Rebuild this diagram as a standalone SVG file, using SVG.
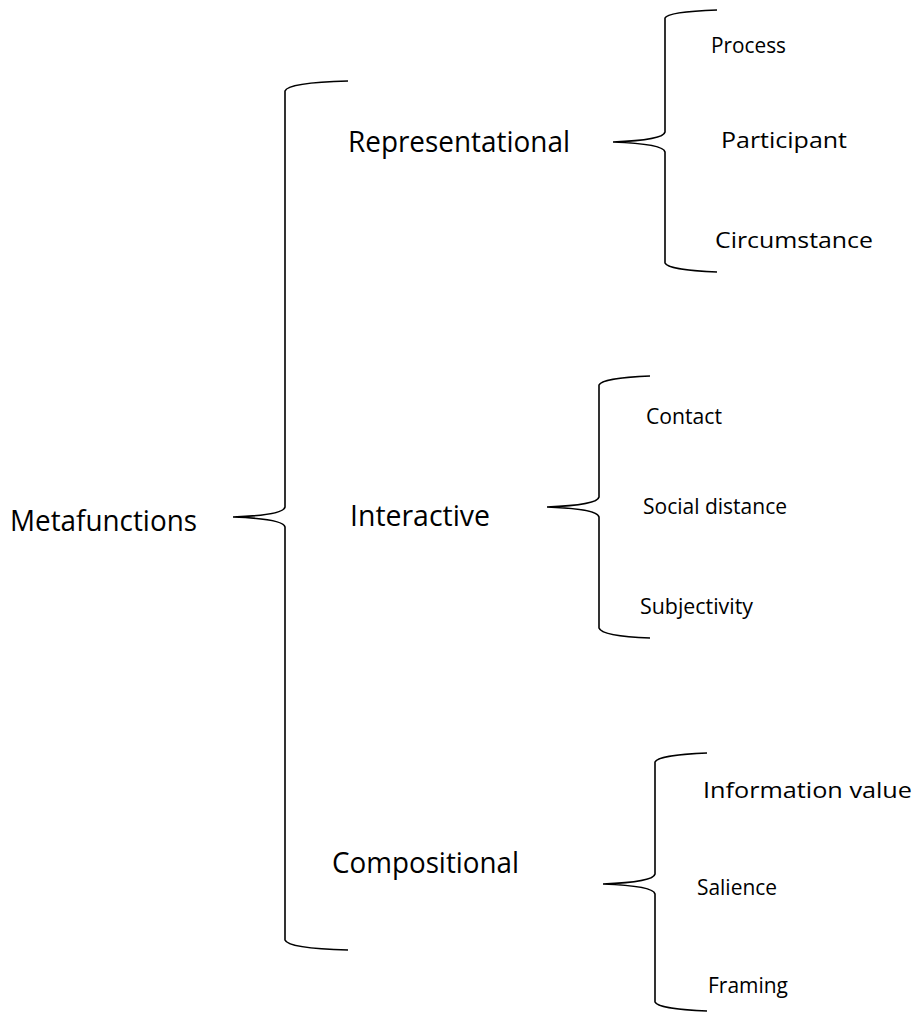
<svg xmlns="http://www.w3.org/2000/svg" width="917" height="1015" viewBox="0 0 917 1015">
<style>
.br{fill:none;stroke:#000;stroke-width:1.6}
.big{font-family:"Open Sans","Liberation Sans",sans-serif;font-size:29px;fill:#000}
.sm{font-family:"Open Sans","Liberation Sans",sans-serif;font-size:21px;fill:#000}
</style>
<rect width="917" height="1015" fill="#fff"/>
<g id="connectors">
<path class="br" d="M348,81 C310,82 287,85 285,91 L285,507 C284,513 260,516 233,517 C260,518 284,521 285,527 L285,940 C287,946 310,949 348,950"/>
<path class="br" d="M717,10 C690,11 667,13 665,18 L665,132 C664,138 640,141 613,142 C640,143 664,146 665,152 L665,263 C667,268 690,271 717,272"/>
<path class="br" d="M650,376 C623,377 601,380 599,385 L599,497 C598,503 574,506 547,507 C574,508 598,511 599,517 L599,628 C601,634 623,637 650,638"/>
<path class="br" d="M707,753 C680,754 657,757 655,762 L655,874 C654,880 630,883 603,884 C630,885 654,888 655,894 L655,1002 C657,1007 680,1010 707,1011"/>
</g>
<g id="metafunctions"><text class="big" x="10" y="531" textLength="187" lengthAdjust="spacingAndGlyphs">Metafunctions</text></g>
<g id="representational"><text class="big" x="348" y="152" textLength="222" lengthAdjust="spacingAndGlyphs">Representational</text></g>
<g id="interactive"><text class="big" x="350" y="526" textLength="140" lengthAdjust="spacingAndGlyphs">Interactive</text></g>
<g id="compositional"><text class="big" x="332" y="873" textLength="187" lengthAdjust="spacingAndGlyphs">Compositional</text></g>
<g id="process"><text class="sm" x="711" y="53" textLength="75" lengthAdjust="spacingAndGlyphs">Process</text></g>
<g id="participant"><text class="sm" x="721" y="148" textLength="126" lengthAdjust="spacingAndGlyphs">Participant</text></g>
<g id="circumstance"><text class="sm" x="715" y="248" textLength="158" lengthAdjust="spacingAndGlyphs">Circumstance</text></g>
<g id="contact"><text class="sm" x="646" y="424" textLength="76" lengthAdjust="spacingAndGlyphs">Contact</text></g>
<g id="social-distance"><text class="sm" x="643" y="514" textLength="144" lengthAdjust="spacingAndGlyphs">Social distance</text></g>
<g id="subjectivity"><text class="sm" x="640" y="614" textLength="113" lengthAdjust="spacingAndGlyphs">Subjectivity</text></g>
<g id="information-value"><text class="sm" x="703" y="798" textLength="209" lengthAdjust="spacingAndGlyphs">Information value</text></g>
<g id="salience"><text class="sm" x="697" y="895" textLength="80" lengthAdjust="spacingAndGlyphs">Salience</text></g>
<g id="framing"><text class="sm" x="708" y="993" textLength="80" lengthAdjust="spacingAndGlyphs">Framing</text></g>
</svg>
